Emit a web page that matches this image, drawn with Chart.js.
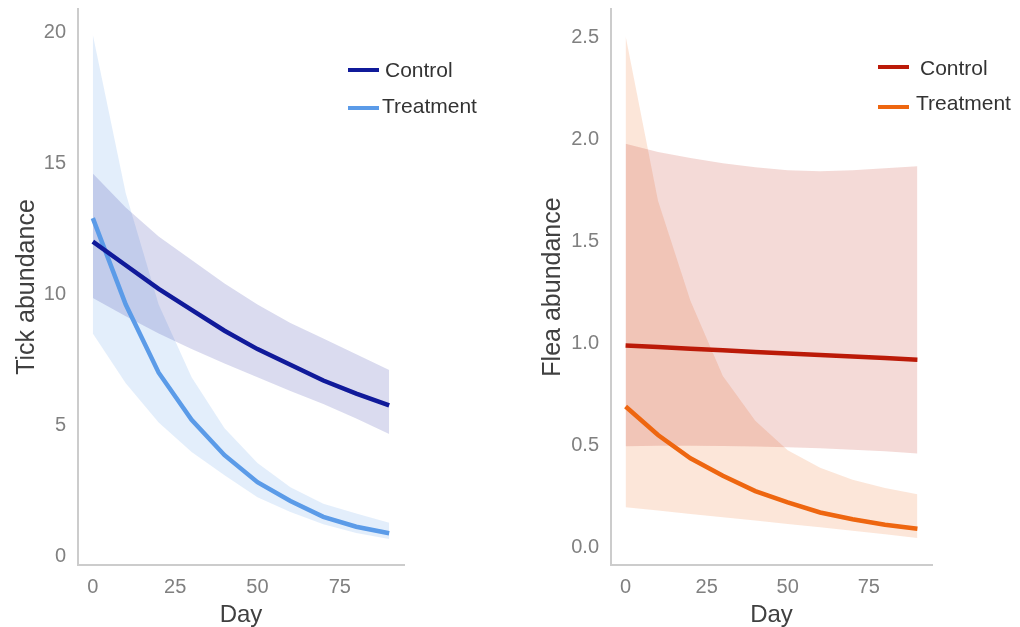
<!DOCTYPE html>
<html>
<head>
<meta charset="utf-8">
<title>Tick and flea abundance</title>
<script src="https://cdn.jsdelivr.net/npm/chart.js@4.4.1/dist/chart.umd.min.js"></script>
<style>
  html, body { margin: 0; padding: 0; background: #fff; }
  #wrap { position: relative; width: 1020px; height: 627px; overflow: hidden; }
  .panel { position: absolute; top: 0; width: 510px; height: 627px; }
</style>
</head>
<body>
<div id="wrap">
  <div class="panel" style="left:0"><canvas id="tickChart" width="510" height="627"></canvas></div>
  <div class="panel" style="left:510px"><canvas id="fleaChart" width="510" height="627"></canvas></div>
</div>
<script>
// ---- data ----
const days = [0, 10, 20, 30, 40, 50, 60, 70, 80, 90];
const dayTicks = [0, 25, 50, 75];

// ticks
const tickControl      = [12.0, 11.1, 10.2, 9.4, 8.6, 7.9, 7.3, 6.7, 6.2, 5.75];
const tickControlLow   = [9.85, 9.15, 8.5, 7.9, 7.35, 6.83, 6.3, 5.8, 5.25, 4.66];
const tickControlHigh  = [14.6, 13.3, 12.2, 11.3, 10.4, 9.6, 8.9, 8.3, 7.7, 7.1];
const tickTreatment    = [12.9, 9.6, 7.0, 5.2, 3.85, 2.82, 2.1, 1.5, 1.12, 0.87];
const tickTreatmentLow = [8.5, 6.6, 5.1, 3.97, 3.09, 2.25, 1.68, 1.22, 0.88, 0.65];
const tickTreatmentHigh= [19.9, 13.85, 9.6, 6.83, 4.88, 3.55, 2.63, 2.0, 1.63, 1.27];
const tickYTicks = [0, 5, 10, 15, 20];

// fleas
const fleaControl      = [0.99, 0.982, 0.974, 0.966, 0.958, 0.951, 0.943, 0.936, 0.928, 0.92];
const fleaControlLow   = [0.495, 0.497, 0.497, 0.496, 0.494, 0.49, 0.485, 0.478, 0.47, 0.46];
const fleaControlHigh  = [1.98, 1.94, 1.91, 1.885, 1.865, 1.85, 1.845, 1.85, 1.86, 1.87];
const fleaTreatment    = [0.69, 0.55, 0.436, 0.35, 0.275, 0.22, 0.17, 0.137, 0.11, 0.09];
const fleaTreatmentLow = [0.196, 0.18, 0.163, 0.147, 0.13, 0.113, 0.097, 0.08, 0.063, 0.045];
const fleaTreatmentHigh= [2.51, 1.70, 1.21, 0.84, 0.62, 0.475, 0.39, 0.33, 0.29, 0.26];
const fleaYTicks = [0, 0.5, 1.0, 1.5, 2.0, 2.5];

const groupLabels = ['Control', 'Treatment'];

// ---- helpers ----
Chart.defaults.font.family = '"Liberation Sans", Arial, Helvetica, sans-serif';
Chart.defaults.animation = false;

const pts = arr => days.map((d, i) => ({ x: d, y: arr[i] }));

const lineSet = (label, arr, color) => ({
    label: label,
    data: pts(arr),
    borderColor: color,
    borderWidth: 4.5,
    pointRadius: 0,
    tension: 0,
    fill: false
});

const bandEdge = (arr, fillTo, color) => ({
    label: '',
    data: pts(arr),
    borderWidth: 0,
    borderColor: 'transparent',
    pointRadius: 0,
    tension: 0,
    fill: fillTo === null ? false : fillTo,
    backgroundColor: color
});

// legend drawn inside the plot area, line swatch + label
const lineKey = {
    id: 'lineKey',
    afterDraw(chart, args, opts) {
        const ctx = chart.ctx;
        ctx.save();
        ctx.font = '21px "Liberation Sans", Arial, sans-serif';
        ctx.textBaseline = 'middle';
        ctx.fillStyle = '#333333';
        opts.items.forEach(it => {
            ctx.strokeStyle = it.color;
            ctx.lineWidth = 4;
            ctx.beginPath();
            ctx.moveTo(it.x, it.y);
            ctx.lineTo(it.x + 31, it.y);
            ctx.stroke();
            ctx.fillText(it.text, it.tx, it.ty);
        });
        ctx.restore();
    }
};

function makePanel(canvasId, cfg) {
    return new Chart(document.getElementById(canvasId), {
        type: 'line',
        data: {
            datasets: [
                lineSet(groupLabels[0], cfg.control, cfg.colors[0]),
                lineSet(groupLabels[1], cfg.treatment, cfg.colors[1]),
                bandEdge(cfg.controlLow, null, cfg.bands[0]),
                bandEdge(cfg.controlHigh, 2, cfg.bands[0]),
                bandEdge(cfg.treatmentLow, null, cfg.bands[1]),
                bandEdge(cfg.treatmentHigh, 4, cfg.bands[1])
            ]
        },
        options: {
            responsive: false,
            layout: { padding: { top: 9, right: cfg.padRight, left: 0, bottom: 0 } },
            plugins: {
                legend: { display: false },
                tooltip: { enabled: false },
                lineKey: { items: cfg.key }
            },
            scales: {
                x: {
                    type: 'linear',
                    min: -4.5,
                    max: 94.5,
                    grid: { display: false, drawTicks: false },
                    border: { display: true, color: '#cccccc', width: 2 },
                    ticks: { color: '#808080', font: { size: 20 }, padding: 10 },
                    title: {
                        display: true, text: 'Day', color: '#404040',
                        font: { size: 24 }, padding: { top: 0, bottom: -3 }
                    },
                    afterBuildTicks: s => { s.ticks = dayTicks.map(v => ({ value: v })); },
                    afterFit: s => { s.height = 62; s.paddingLeft = 0; s.paddingRight = 0; }
                },
                y: {
                    type: 'linear',
                    min: cfg.yMin,
                    max: cfg.yMax,
                    grid: { display: false, drawTicks: false },
                    border: { display: true, color: '#cccccc', width: 2 },
                    ticks: {
                        color: '#808080', font: { size: 20 }, padding: 12,
                        callback: cfg.fmt
                    },
                    title: {
                        display: true, text: cfg.yTitle, color: '#404040',
                        font: { size: 25 }, padding: { top: cfg.titlePad, bottom: 0 }
                    },
                    afterBuildTicks: s => { s.ticks = cfg.yTicks.map(v => ({ value: v })); },
                    afterFit: s => { s.width = cfg.axisW; s.paddingTop = 0; s.paddingBottom = 0; }
                }
            }
        },
        plugins: [lineKey]
    });
}

// left: tick abundance
makePanel('tickChart', {
    control: tickControl, controlLow: tickControlLow, controlHigh: tickControlHigh,
    treatment: tickTreatment, treatmentLow: tickTreatmentLow, treatmentHigh: tickTreatmentHigh,
    colors: ['#101a9a', '#5b9be8'],
    bands: ['rgba(16, 26, 154, 0.155)', 'rgba(91, 155, 232, 0.17)'],
    yMin: -0.34, yMax: 20.88, yTicks: tickYTicks,
    fmt: v => String(v),
    yTitle: 'Tick abundance',
    axisW: 78, padRight: 106, titlePad: 12,
    key: [
        { text: groupLabels[0], color: '#101a9a', x: 348, y: 70, tx: 385, ty: 71 },
        { text: groupLabels[1], color: '#5b9be8', x: 348, y: 108, tx: 382, ty: 107 }
    ]
});

// right: flea abundance
makePanel('fleaChart', {
    control: fleaControl, controlLow: fleaControlLow, controlHigh: fleaControlHigh,
    treatment: fleaTreatment, treatmentLow: fleaTreatmentLow, treatmentHigh: fleaTreatmentHigh,
    colors: ['#bb1a08', '#ee6610'],
    bands: ['rgba(187, 26, 8, 0.16)', 'rgba(238, 102, 16, 0.16)'],
    yMin: -0.088, yMax: 2.642, yTicks: fleaYTicks,
    fmt: v => Number(v).toFixed(1),
    yTitle: 'Flea abundance',
    axisW: 101, padRight: 88, titlePad: 28,
    key: [
        { text: groupLabels[0], color: '#bb1a08', x: 368, y: 67, tx: 410, ty: 69 },
        { text: groupLabels[1], color: '#ee6610', x: 368, y: 107, tx: 406, ty: 104 }
    ]
});
</script>
</body>
</html>
